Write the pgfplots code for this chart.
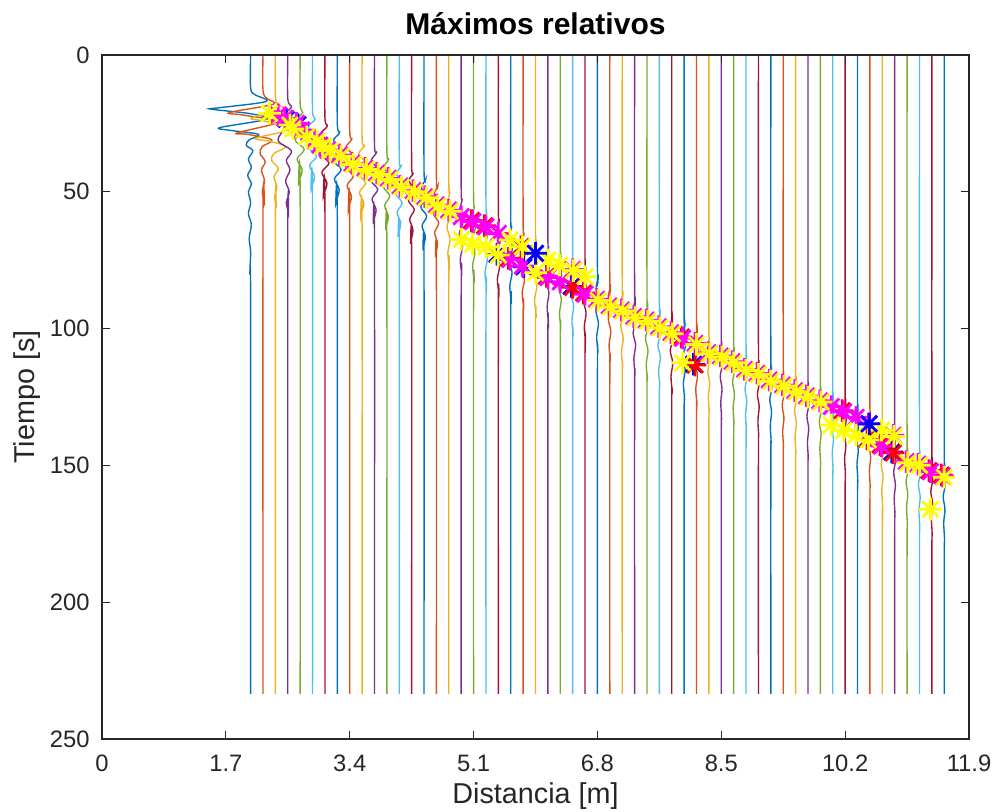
\documentclass[border=0pt]{standalone}
\usepackage{fontspec}
\setmainfont{Liberation Sans}
\usepackage{pgfplots}
\pgfplotsset{compat=1.18}
\definecolor{c1}{HTML}{0072BD}
\definecolor{c2}{HTML}{D95319}
\definecolor{c3}{HTML}{EDB120}
\definecolor{c4}{HTML}{7E2F8E}
\definecolor{c5}{HTML}{77AC30}
\definecolor{c6}{HTML}{4DBEEE}
\definecolor{c7}{HTML}{A2142F}
\definecolor{axc}{HTML}{262626}
\definecolor{mMag}{HTML}{FF00FF}
\definecolor{mYel}{HTML}{FFFF00}
\definecolor{mRed}{HTML}{FF0000}
\definecolor{mBlu}{HTML}{0000FF}
% asterisco de 8 brazos, como el '*' de MATLAB
\pgfdeclareplotmark{ast8}{%
  \pgfpathmoveto{\pgfqpoint{-\pgfplotmarksize}{0pt}}%
  \pgfpathlineto{\pgfqpoint{\pgfplotmarksize}{0pt}}%
  \pgfpathmoveto{\pgfqpoint{0pt}{-\pgfplotmarksize}}%
  \pgfpathlineto{\pgfqpoint{0pt}{\pgfplotmarksize}}%
  \pgfpathmoveto{\pgfqpoint{-0.707\pgfplotmarksize}{-0.707\pgfplotmarksize}}%
  \pgfpathlineto{\pgfqpoint{0.707\pgfplotmarksize}{0.707\pgfplotmarksize}}%
  \pgfpathmoveto{\pgfqpoint{-0.707\pgfplotmarksize}{0.707\pgfplotmarksize}}%
  \pgfpathlineto{\pgfqpoint{0.707\pgfplotmarksize}{-0.707\pgfplotmarksize}}%
  \pgfusepathqstroke}
\pgfplotsset{
  tr/.style={smooth,tension=0.55,mark=none,line width=0.55pt},
  mk/.style={only marks,mark=ast8,mark size=4.5pt,mark options={line width=1.1pt}},
}
\begin{document}
\begin{tikzpicture}
\useasboundingbox (-40.8pt,-28.8pt) rectangle (358.4pt,295.6pt);
\begin{axis}[
  scale only axis,width=346.8pt,height=273.6pt,
  xmin=0,xmax=11.9,ymin=0,ymax=250,y dir=reverse,
  xtick={0,1.7,3.4,5.1,6.8,8.5,10.2,11.9},
  xticklabels={0,1.7,3.4,5.1,6.8,8.5,10.2,11.9},
  ytick={0,50,100,150,200,250},
  yticklabels={0,50,100,150,200,250},
  axis on top,
  axis line style={axc,line width=0.5pt},
  tick style={axc,line width=0.5pt},
  major tick length=3.2pt,
  tick align=inside,
  xticklabel style={font=\fontsize{9.5}{11}\selectfont,color=axc,anchor=base,inner sep=0pt,yshift=-12.8pt},
  yticklabel style={font=\fontsize{9.5}{11}\selectfont,color=axc,anchor=east,inner sep=0pt,xshift=-4.8pt},
  title={Máximos relativos},
  title style={font=\bfseries\fontsize{12}{14}\selectfont,at={(axis description cs:0.5,1)},anchor=base,yshift=2.4pt},
  xlabel={Distancia [m]},
  xlabel style={font=\fontsize{11.5}{13}\selectfont,color=axc,at={(axis description cs:0.5,0)},anchor=base,yshift=-25.6pt},
  ylabel={Tiempo [s]},
  ylabel style={font=\fontsize{11.5}{13}\selectfont,color=axc,at={(axis description cs:-0.0784,0.5)},anchor=base,rotate=0},
  cycle list={{c1},{c2},{c3},{c4},{c5},{c6},{c7}},
]
% trazas
\addplot+[tr] coordinates {(2.04,0)(2.04,12)(2.10,14.5)(2.25,17)(1.60,19.3)(1.50,19.8)(2.05,21.5)(2.25,23.5)(1.62,26.5)(1.75,27.5)(2.15,29)(2.02,31)(1.98,33)(2.07,35)(2.01,38)(2.05,41)(2.00,44)(2.05,47)(2.01,50)(2.04,54)(2.01,58)(2.05,62)(2.02,67)(2.04,72)(2.03,80)(2.04,90)(2.04,233.5)};
\addplot+[tr] coordinates {(2.21,0)(2.21,13)(2.27,16)(2.35,18)(1.75,21)(1.90,21.8)(2.30,23.5)(2.38,25)(1.85,28.5)(2.00,29)(2.33,31)(2.20,33.5)(2.17,36)(2.24,39)(2.19,42)(2.23,46)(2.20,50)(2.23,55)(2.21,60)(2.21,233.5)};
\addplot+[tr] coordinates {(2.38,0)(2.38,15)(2.42,18)(2.48,20)(2.05,23)(2.20,24)(2.50,26)(2.48,28)(2.10,30.5)(2.30,31.5)(2.52,33.5)(2.36,36)(2.33,38.5)(2.42,41.5)(2.36,44.5)(2.40,48)(2.37,52)(2.39,56)(2.38,62)(2.38,233.5)};
\addplot+[tr] coordinates {(2.55,0)(2.55,16)(2.60,19)(2.50,22)(2.62,25)(2.48,28)(2.42,31.5)(2.60,35)(2.53,38.5)(2.58,42)(2.52,46)(2.57,50)(2.53,54)(2.56,58)(2.55,64)(2.55,233.5)};
\addplot+[tr] coordinates {(2.72,0)(2.72,18)(2.755,21)(2.664,24)(2.79,27.5)(2.65,31)(2.776,34.5)(2.678,38)(2.748,42)(2.699,47)(2.72,53)(2.72,233.5)};
\addplot+[tr] coordinates {(2.89,0)(2.89,20.4)(2.925,23.4)(2.834,26.4)(2.96,29.9)(2.82,33.4)(2.946,36.9)(2.848,40.4)(2.918,44.4)(2.869,49.4)(2.89,55.4)(2.89,233.5)};
\addplot+[tr] coordinates {(3.06,0)(3.06,22.9)(3.095,25.9)(3.004,28.9)(3.13,32.4)(2.99,35.9)(3.116,39.4)(3.018,42.9)(3.088,46.9)(3.039,51.9)(3.06,57.9)(3.06,233.5)};
\addplot+[tr] coordinates {(3.23,0)(3.23,25.3)(3.263,28.3)(3.178,31.3)(3.295,34.8)(3.165,38.3)(3.282,41.8)(3.191,45.3)(3.256,49.3)(3.21,54.3)(3.23,60.3)(3.23,233.5)};
\addplot+[tr] coordinates {(3.40,0)(3.40,27.7)(3.43,30.7)(3.352,33.7)(3.46,37.2)(3.34,40.7)(3.448,44.2)(3.364,47.7)(3.424,51.7)(3.382,56.7)(3.40,62.7)(3.40,233.5)};
\addplot+[tr] coordinates {(3.57,0)(3.57,30.2)(3.60,33.2)(3.522,36.2)(3.63,39.7)(3.51,43.2)(3.618,46.7)(3.534,50.2)(3.594,54.2)(3.552,59.2)(3.57,65.2)(3.57,233.5)};
\addplot+[tr] coordinates {(3.74,0)(3.74,32.6)(3.768,35.6)(3.696,38.6)(3.795,42.1)(3.685,45.6)(3.784,49.1)(3.707,52.6)(3.762,56.6)(3.723,61.6)(3.74,67.6)(3.74,233.5)};
\addplot+[tr] coordinates {(3.91,0)(3.91,35)(3.935,38)(3.87,41)(3.96,44.5)(3.86,48)(3.95,51.5)(3.88,55)(3.93,59)(3.895,64)(3.91,70)(3.91,233.5)};
\addplot+[tr] coordinates {(4.08,0)(4.08,37.5)(4.105,40.5)(4.04,43.5)(4.13,47)(4.03,50.5)(4.12,54)(4.05,57.5)(4.10,61.5)(4.065,66.5)(4.08,72.5)(4.08,233.5)};
\addplot+[tr] coordinates {(4.25,0)(4.25,40)(4.273,43)(4.214,46)(4.295,49.5)(4.205,53)(4.286,56.5)(4.223,60)(4.268,64)(4.236,69)(4.25,75)(4.25,233.5)};
\addplot+[tr] coordinates {(4.42,0)(4.42,42.4)(4.443,45.4)(4.384,48.4)(4.465,51.9)(4.375,55.4)(4.456,58.9)(4.393,62.4)(4.438,66.4)(4.406,71.4)(4.42,77.4)(4.42,233.5)};
\addplot+[tr] coordinates {(4.59,0)(4.59,44.9)(4.61,47.9)(4.558,50.9)(4.63,54.4)(4.55,57.9)(4.622,61.4)(4.566,64.9)(4.606,68.9)(4.578,73.9)(4.59,79.9)(4.59,233.5)};
\addplot+[tr] coordinates {(4.76,0)(4.76,46.3)(4.773,50.3)(4.74,54.3)(4.785,58.3)(4.735,62.8)(4.778,67.3)(4.747,72.3)(4.768,78.3)(4.76,85.3)(4.76,233.5)};
\addplot+[tr] coordinates {(4.93,0)(4.93,48.8)(4.943,52.8)(4.91,56.8)(4.955,60.8)(4.905,65.3)(4.948,69.8)(4.917,74.8)(4.938,80.8)(4.93,87.8)(4.93,233.5)};
\addplot+[tr] coordinates {(5.10,0)(5.10,51.2)(5.113,55.2)(5.08,59.2)(5.125,63.2)(5.075,67.7)(5.118,72.2)(5.087,77.2)(5.108,83.2)(5.10,90.2)(5.10,233.5)};
\addplot+[tr] coordinates {(5.27,0)(5.27,53.6)(5.283,57.6)(5.25,61.6)(5.295,65.6)(5.245,70.1)(5.288,74.6)(5.257,79.6)(5.278,85.6)(5.27,92.6)(5.27,233.5)};
\addplot+[tr] coordinates {(5.44,0)(5.44,56)(5.453,60)(5.42,64)(5.465,68)(5.415,72.5)(5.458,77)(5.427,82)(5.448,88)(5.44,95)(5.44,233.5)};
\addplot+[tr] coordinates {(5.61,0)(5.61,58.5)(5.623,62.5)(5.59,66.5)(5.635,70.5)(5.585,75)(5.628,79.5)(5.597,84.5)(5.618,90.5)(5.61,97.5)(5.61,233.5)};
\addplot+[tr] coordinates {(5.78,0)(5.78,61)(5.793,65)(5.76,69)(5.805,73)(5.755,77.5)(5.798,82)(5.767,87)(5.788,93)(5.78,100)(5.78,233.5)};
\addplot+[tr] coordinates {(5.95,0)(5.95,63.5)(5.963,67.5)(5.93,71.5)(5.975,75.5)(5.925,80)(5.968,84.5)(5.937,89.5)(5.958,95.5)(5.95,102.5)(5.95,233.5)};
\addplot+[tr] coordinates {(6.12,0)(6.12,66)(6.13,70)(6.104,74)(6.14,78)(6.10,82.5)(6.134,87)(6.11,92)(6.126,98)(6.12,105)(6.12,233.5)};
\addplot+[tr] coordinates {(6.29,0)(6.29,68.4)(6.30,72.4)(6.274,76.4)(6.31,80.4)(6.27,84.9)(6.304,89.4)(6.28,94.4)(6.296,100.4)(6.29,107.4)(6.29,233.5)};
\addplot+[tr] coordinates {(6.46,0)(6.46,70.8)(6.47,74.8)(6.444,78.8)(6.48,82.8)(6.44,87.3)(6.474,91.8)(6.45,96.8)(6.466,102.8)(6.46,109.8)(6.46,233.5)};
\addplot+[tr] coordinates {(6.63,0)(6.63,73.3)(6.64,77.3)(6.614,81.3)(6.65,85.3)(6.61,89.8)(6.644,94.3)(6.62,99.3)(6.636,105.3)(6.63,112.3)(6.63,233.5)};
\addplot+[tr] coordinates {(6.80,0)(6.80,77)(6.81,81)(6.784,85)(6.82,89)(6.78,93.5)(6.814,98)(6.79,103)(6.806,109)(6.80,116)(6.80,233.5)};
\addplot+[tr] coordinates {(6.97,0)(6.97,80)(6.98,84)(6.954,88)(6.99,92)(6.95,96.5)(6.984,101)(6.96,106)(6.976,112)(6.97,119)(6.97,233.5)};
\addplot+[tr] coordinates {(7.14,0)(7.14,82.5)(7.15,86.5)(7.124,90.5)(7.16,94.5)(7.12,99)(7.154,103.5)(7.13,108.5)(7.146,114.5)(7.14,121.5)(7.14,233.5)};
\addplot+[tr] coordinates {(7.31,0)(7.31,85)(7.32,89)(7.294,93)(7.33,97)(7.29,101.5)(7.324,106)(7.30,111)(7.316,117)(7.31,124)(7.31,233.5)};
\addplot+[tr] coordinates {(7.48,0)(7.48,87)(7.49,91)(7.464,95)(7.50,99)(7.46,103.5)(7.494,108)(7.47,113)(7.486,119)(7.48,126)(7.48,233.5)};
\addplot+[tr] coordinates {(7.65,0)(7.65,89.5)(7.66,93.5)(7.634,97.5)(7.67,101.5)(7.63,106)(7.664,110.5)(7.64,115.5)(7.656,121.5)(7.65,128.5)(7.65,233.5)};
\addplot+[tr] coordinates {(7.82,0)(7.82,91.5)(7.83,95.5)(7.804,99.5)(7.84,103.5)(7.80,108)(7.834,112.5)(7.81,117.5)(7.826,123.5)(7.82,130.5)(7.82,233.5)};
\addplot+[tr] coordinates {(7.99,0)(7.99,94)(8.00,98)(7.974,102)(8.01,106)(7.97,110.5)(8.004,115)(7.98,120)(7.996,126)(7.99,133)(7.99,233.5)};
\addplot+[tr] coordinates {(8.16,0)(8.16,96)(8.17,100)(8.144,104)(8.18,108)(8.14,112.5)(8.174,117)(8.15,122)(8.166,128)(8.16,135)(8.16,233.5)};
\addplot+[tr] coordinates {(8.33,0)(8.33,99)(8.337,103)(8.319,107)(8.344,111)(8.316,115.5)(8.34,120)(8.323,125)(8.334,131)(8.33,138)(8.33,233.5)};
\addplot+[tr] coordinates {(8.50,0)(8.50,101)(8.507,105)(8.489,109)(8.514,113)(8.486,117.5)(8.51,122)(8.493,127)(8.504,133)(8.50,140)(8.50,233.5)};
\addplot+[tr] coordinates {(8.67,0)(8.67,103)(8.677,107)(8.659,111)(8.684,115)(8.656,119.5)(8.68,124)(8.663,129)(8.674,135)(8.67,142)(8.67,233.5)};
\addplot+[tr] coordinates {(8.84,0)(8.84,105.5)(8.847,109.5)(8.829,113.5)(8.854,117.5)(8.826,122)(8.85,126.5)(8.833,131.5)(8.844,137.5)(8.84,144.5)(8.84,233.5)};
\addplot+[tr] coordinates {(9.01,0)(9.01,107.5)(9.017,111.5)(8.999,115.5)(9.024,119.5)(8.996,124)(9.02,128.5)(9.003,133.5)(9.014,139.5)(9.01,146.5)(9.01,233.5)};
\addplot+[tr] coordinates {(9.18,0)(9.18,109.5)(9.187,113.5)(9.169,117.5)(9.194,121.5)(9.166,126)(9.19,130.5)(9.173,135.5)(9.184,141.5)(9.18,148.5)(9.18,233.5)};
\addplot+[tr] coordinates {(9.35,0)(9.35,111.5)(9.357,115.5)(9.339,119.5)(9.364,123.5)(9.336,128)(9.36,132.5)(9.343,137.5)(9.354,143.5)(9.35,150.5)(9.35,233.5)};
\addplot+[tr] coordinates {(9.52,0)(9.52,113.5)(9.527,117.5)(9.509,121.5)(9.534,125.5)(9.506,130)(9.53,134.5)(9.513,139.5)(9.524,145.5)(9.52,152.5)(9.52,233.5)};
\addplot+[tr] coordinates {(9.69,0)(9.69,115.5)(9.697,119.5)(9.679,123.5)(9.704,127.5)(9.676,132)(9.70,136.5)(9.683,141.5)(9.694,147.5)(9.69,154.5)(9.69,233.5)};
\addplot+[tr] coordinates {(9.86,0)(9.86,117.5)(9.867,121.5)(9.849,125.5)(9.874,129.5)(9.846,134)(9.87,138.5)(9.853,143.5)(9.864,149.5)(9.86,156.5)(9.86,233.5)};
\addplot+[tr] coordinates {(10.03,0)(10.03,119.5)(10.037,123.5)(10.019,127.5)(10.044,131.5)(10.016,136)(10.04,140.5)(10.023,145.5)(10.034,151.5)(10.03,158.5)(10.03,233.5)};
\addplot+[tr] coordinates {(10.20,0)(10.20,121.5)(10.207,125.5)(10.189,129.5)(10.214,133.5)(10.186,138)(10.21,142.5)(10.193,147.5)(10.204,153.5)(10.20,160.5)(10.20,233.5)};
\addplot+[tr] coordinates {(10.37,0)(10.37,123.5)(10.377,127.5)(10.359,131.5)(10.384,135.5)(10.356,140)(10.38,144.5)(10.363,149.5)(10.374,155.5)(10.37,162.5)(10.37,233.5)};
\addplot+[tr] coordinates {(10.54,0)(10.54,126)(10.547,130)(10.529,134)(10.554,138)(10.526,142.5)(10.55,147)(10.533,152)(10.544,158)(10.54,165)(10.54,233.5)};
\addplot+[tr] coordinates {(10.71,0)(10.71,133)(10.717,137)(10.699,141)(10.724,145)(10.696,149.5)(10.72,154)(10.703,159)(10.714,165)(10.71,172)(10.71,233.5)};
\addplot+[tr] coordinates {(10.88,0)(10.88,136)(10.887,140)(10.869,144)(10.894,148)(10.866,152.5)(10.89,157)(10.873,162)(10.884,168)(10.88,175)(10.88,233.5)};
\addplot+[tr] coordinates {(11.05,0)(11.05,139.5)(11.057,143.5)(11.039,147.5)(11.064,151.5)(11.036,156)(11.06,160.5)(11.043,165.5)(11.054,171.5)(11.05,178.5)(11.05,233.5)};
\addplot+[tr] coordinates {(11.22,0)(11.22,140.5)(11.227,144.5)(11.209,148.5)(11.234,152.5)(11.206,157)(11.23,161.5)(11.213,166.5)(11.224,172.5)(11.22,179.5)(11.22,233.5)};
\addplot+[tr] coordinates {(11.39,0)(11.39,143)(11.397,147)(11.379,151)(11.404,155)(11.376,159.5)(11.40,164)(11.383,169)(11.394,175)(11.39,182)(11.39,233.5)};
\addplot+[tr] coordinates {(11.56,0)(11.56,145)(11.567,149)(11.549,153)(11.574,157)(11.546,161.5)(11.57,166)(11.553,171)(11.564,177)(11.56,184)(11.56,233.5)};
% maximos
\addplot[mk,color=mBlu] coordinates {(2.53,23.5)(2.69,25.4)(5.42,72.9)(5.79,77.4)(6.44,84.6)(8.12,113.0)(10.84,145.1)};
\addplot[mk,color=mRed] coordinates {(5.07,60.5)(5.25,62.4)(5.58,74.3)(5.75,70.0)(6.10,80.9)(6.61,87.0)(7.95,103.1)(10.16,130.0)(10.68,142.5)(11.35,151.9)(11.52,153.5)(10.50,140.4)(6.46,84.9)(8.14,113.3)(10.86,145.4)};
\addplot[mk,color=mMag] coordinates {(2.42,21.9)(2.51,23.1)(2.67,25.0)(2.74,27.4)(2.92,31.1)(2.99,32.9)(3.10,34.7)(3.26,36.5)(3.43,39.6)(3.61,41.4)(3.77,43.2)(3.93,45.1)(4.09,47.9)(4.27,49.6)(4.43,51.8)(4.59,54.8)(4.76,56.7)(4.93,59.1)(5.09,60.9)(5.27,62.8)(5.44,65.2)(5.60,74.7)(5.77,77.1)(6.12,81.3)(6.29,82.9)(6.63,87.4)(6.79,89.3)(6.96,91.7)(7.13,93.2)(7.30,95.6)(7.47,96.9)(7.64,99.3)(7.81,101.5)(7.97,103.5)(8.14,105.4)(8.32,108.8)(8.49,110.0)(8.65,112.1)(8.82,114.9)(8.99,116.3)(9.16,118.8)(9.34,120.6)(9.51,122.7)(9.67,124.6)(9.85,126.4)(10.01,128.5)(10.18,130.4)(10.35,132.4)(10.52,134.9)(10.70,142.9)(11.04,148.6)(11.20,149.5)(11.37,152.3)(11.54,153.9)(6.46,78.4)(10.86,139.0)};
\addplot[mk,color=mYel] coordinates {(2.30,21.3)(2.58,25.6)(2.62,27.0)(2.81,29.9)(2.95,31.5)(3.03,33.3)(3.13,35.0)(3.28,37.0)(3.45,40.0)(3.63,41.8)(3.79,43.6)(3.95,45.5)(4.11,48.3)(4.29,50.0)(4.45,52.2)(4.61,55.2)(4.78,57.1)(4.93,67.4)(5.09,69.1)(5.27,70.1)(5.44,73.1)(5.60,67.6)(5.77,70.1)(5.95,79.6)(6.12,74.9)(6.28,76.8)(6.47,78.8)(6.63,81.0)(6.81,89.7)(6.98,92.1)(7.15,93.6)(7.32,96.0)(7.49,97.3)(7.66,99.7)(7.83,101.9)(8.16,105.8)(7.97,112.5)(8.34,109.2)(8.51,110.4)(8.67,112.5)(8.84,115.3)(9.01,116.7)(9.18,119.2)(9.36,121.0)(9.53,123.1)(9.69,125.0)(9.87,126.8)(10.01,135.2)(10.18,137.3)(10.35,138.9)(10.52,140.7)(10.70,137.1)(10.87,139.4)(11.06,149.0)(11.22,149.9)(11.56,154.3)(11.37,166.0)};
\addplot[mk,color=mBlu] coordinates {(5.95,72.5)(10.53,134.8)};
\end{axis}
\end{tikzpicture}
\end{document}
